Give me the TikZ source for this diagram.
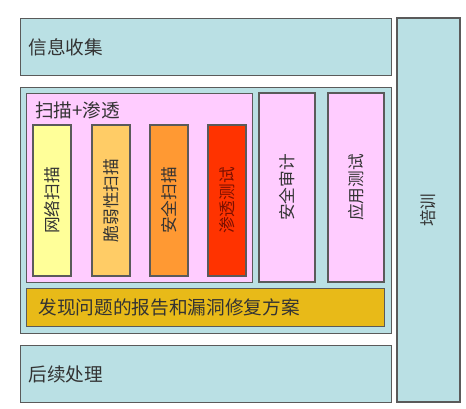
\documentclass[tikz,border=0pt]{standalone}
\usepackage{fontspec}
\setmainfont{Noto Sans CJK SC}
\usepackage{tikz}
\definecolor{tealbox}{HTML}{BAE0E4}
\definecolor{pinkbox}{HTML}{FFCCFF}
\definecolor{netbar}{HTML}{FFFF99}
\definecolor{vulbar}{HTML}{FFCC66}
\definecolor{secbar}{HTML}{FF9933}
\definecolor{penbar}{HTML}{FF3300}
\definecolor{reportbox}{HTML}{E8BA18}
\definecolor{edgegray}{HTML}{5A5A5A}
\definecolor{txtgray}{HTML}{333333}
\definecolor{txtred}{HTML}{7A1000}
\newcommand{\pxl}{0.75pt}

\begin{document}
\begin{tikzpicture}[x=0.75pt,y=-0.75pt,
      box/.style={draw=edgegray,line width=0.8pt,inner sep=0pt,anchor=north west},
      bigtext/.style={font=\fontsize{14}{17}\selectfont,text=txtgray},
      bar/.style={box,anchor=center,rotate=90,font=\fontsize{12.5}{15}\selectfont,text=txtgray}]
    \useasboundingbox (0,0) rectangle (466,409);
    % outer rows
    \node[box,bigtext,fill=tealbox,minimum width=371*\pxl,minimum height=57*\pxl,
      text width=355*\pxl,align=left] (info) at (20,18) {信息收集};
    \node[box,fill=tealbox,minimum width=371*\pxl,minimum height=246*\pxl] (mid) at (20,87) {};
    \node[box,bigtext,fill=tealbox,minimum width=371*\pxl,minimum height=57*\pxl,
      text width=355*\pxl,align=left] (post) at (20,345) {后续处理};
    \node[bar,fill=tealbox,minimum width=384*\pxl,minimum height=63*\pxl] (train) at (428.5,210) {培训};
    % scanning and penetration
    \node[box,fill=pinkbox,minimum width=226*\pxl,minimum height=189*\pxl] (scan) at (26,93) {};
    \node[bigtext,anchor=west,inner sep=0pt] (scanlbl) at (35,110) {扫描+渗透};
    \node[bar,fill=netbar,minimum width=151*\pxl,minimum height=38*\pxl] (net) at (52,200.5) {网络扫描};
    \node[bar,fill=vulbar,minimum width=151*\pxl,minimum height=38*\pxl] (vul) at (111,200.5) {脆弱性扫描};
    \node[bar,fill=secbar,minimum width=151*\pxl,minimum height=38*\pxl] (sec) at (169,200.5) {安全扫描};
    \node[bar,fill=penbar,text=txtred,minimum width=151*\pxl,minimum height=38*\pxl] (pen) at (227,200.5) {渗透测试};
    % audit and application test
    \node[bar,fill=pinkbox,minimum width=189*\pxl,minimum height=56*\pxl] (audit) at (287,187.5) {安全审计};
    \node[bar,fill=pinkbox,minimum width=189*\pxl,minimum height=56*\pxl] (app) at (356,187.5) {应用测试};
    % report
    \node[box,bigtext,fill=reportbox,minimum width=358*\pxl,minimum height=38*\pxl,
      text width=334*\pxl,align=left] (report) at (26,288) {发现问题的报告和漏洞修复方案};
  \end{tikzpicture}
\end{document}
